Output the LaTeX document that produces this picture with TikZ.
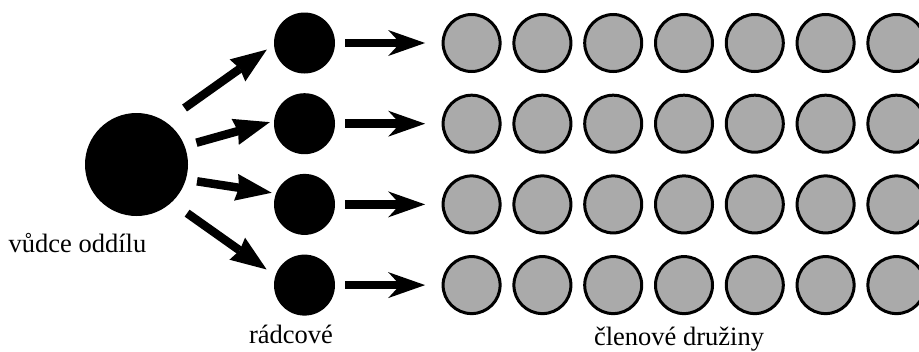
\documentclass[tikz,border=0pt]{standalone}
\usepackage{fontspec}
\setmainfont{Liberation Serif}
\usetikzlibrary{arrows.meta}
\definecolor{memb}{HTML}{AAAAAA}
\tikzset{
  leader/.style={circle, fill=black, minimum size=103pt, inner sep=0pt},
  chief/.style={circle, fill=black, minimum size=61pt, inner sep=0pt},
  member/.style={circle, draw=black, line width=3pt, fill=memb, minimum size=57pt, inner sep=0pt},
  diagarrow/.style={line width=8.5pt, -{Stealth[length=36pt, width=27pt, inset=3pt, line width=0pt]}},
  horizarrow/.style={line width=8.5pt, -{Stealth[length=37pt, width=26pt, inset=12pt, line width=0pt]}},
  lbl/.style={font=\fontsize{26.5}{30}\selectfont, inner sep=0pt, anchor=base}
}
\begin{document}
\begin{tikzpicture}[x=1pt, y=-1pt]
\clip (0,0) rectangle (919,351);
\fill[white] (0,0) rectangle (919,351);
\node[leader] (big) at (136.5,164.5) {};
\foreach \r in {1,...,4} {
  \node[chief] (r\r) at (304.5,{43+80.7*(\r-1)}) {};
  \foreach \c in {1,...,7} {
    \node[member] (m\r\c) at ({471.6+70.8*(\c-1)},{43+80.7*(\r-1)}) {};
  }
  \draw[horizarrow, shorten <=10pt, shorten >=16.5pt] (r\r.east) -- (m\r1.west);
}
\draw[diagarrow, shorten <=23.5pt, shorten >=8.6pt] (big.56.7) -- (r1.183.9);
\draw[diagarrow, shorten <=12.1pt, shorten >=4.25pt] (big.21.7) -- (r2.175.3);
\draw[diagarrow, shorten <=11.2pt, shorten >=4.2pt] (big.-17.5) -- (r3.159.9);
\draw[diagarrow, shorten <=18.8pt, shorten >=10.6pt] (big.-47.4) -- (r4.162.9);
\node[lbl] (lead) at (77.5,252) {vůdce oddílu};
\node[lbl] (chf) at (291,343) {rádcové};
\node[lbl] (mem) at (679,345) {členové družiny};
\end{tikzpicture}
\end{document}
